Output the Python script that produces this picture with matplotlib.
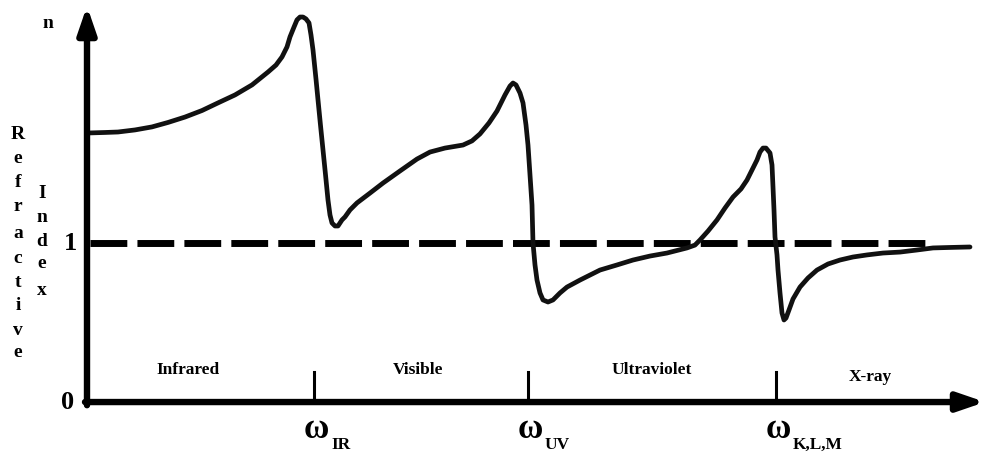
import matplotlib
matplotlib.use("Agg")
import matplotlib.pyplot as plt

plt.rcParams["lines.scale_dashes"] = False
SERIF = ["Liberation Serif", "DejaVu Serif"]

# Frequency (arbitrary units) and refractive index n along the dispersion curve
freq = [0.02, 0.18, 0.31, 0.48, 0.65, 0.81, 0.98, 1.15, 1.31, 1.48, 1.65, 1.81,
        1.89, 1.95, 2.00, 2.03, 2.07, 2.10, 2.13, 2.16, 2.19, 2.22, 2.24, 2.26,
        2.29, 2.31, 2.335, 2.36, 2.385, 2.41, 2.43, 2.45, 2.48, 2.51, 2.55, 2.58,
        2.63, 2.70, 2.83, 2.96, 3.13, 3.30, 3.43, 3.58, 3.76, 3.85, 3.93, 4.02,
        4.10, 4.18, 4.23, 4.26, 4.29, 4.33, 4.36, 4.39, 4.41, 4.43, 4.45, 4.46,
        4.48, 4.50, 4.53, 4.56, 4.61, 4.66, 4.73, 4.80, 4.93, 5.13, 5.30, 5.46,
        5.63, 5.80, 6.00, 6.08, 6.13, 6.21, 6.30, 6.38, 6.46, 6.54, 6.60, 6.65,
        6.70, 6.73, 6.76, 6.79, 6.83, 6.85, 6.86, 6.87, 6.88, 6.90, 6.91, 6.93,
        6.95, 6.97, 6.99, 7.02, 7.06, 7.13, 7.21, 7.30, 7.41, 7.53, 7.66, 7.80,
        7.96, 8.13, 8.30, 8.46, 8.63, 8.83]
n_index = [1.692, 1.695, 1.698, 1.711, 1.730, 1.758, 1.792, 1.833, 1.881, 1.931,
           1.994, 2.075, 2.119, 2.170, 2.233, 2.296, 2.358, 2.403, 2.421, 2.421,
           2.409, 2.384, 2.308, 2.214, 2.030, 1.900, 1.740, 1.585, 1.430, 1.270,
           1.176, 1.126, 1.107, 1.107, 1.145, 1.164,
           1.208, 1.252, 1.314, 1.377, 1.453, 1.528, 1.572, 1.597, 1.616, 1.642,
           1.686, 1.755, 1.830, 1.931, 1.987, 2.006, 1.994, 1.943, 1.881, 1.742,
           1.616, 1.428, 1.239, 1.000,
           0.862, 0.767, 0.686, 0.642, 0.629, 0.642, 0.686, 0.723, 0.767, 0.830,
           0.862, 0.893, 0.918, 0.937, 0.969, 0.987, 1.019, 1.075, 1.145, 1.220,
           1.289, 1.340, 1.396, 1.459, 1.522, 1.572, 1.597, 1.597, 1.566, 1.491,
           1.352, 1.208, 1.038, 0.925, 0.830, 0.686, 0.560, 0.516, 0.528, 0.579,
           0.648, 0.723, 0.780, 0.830, 0.868, 0.893, 0.912, 0.925, 0.937, 0.943,
           0.956, 0.969, 0.972, 0.975]

# Resonance frequencies marked on the axis
res_freq = [2.27, 4.41, 6.89]
res_symbol = ["\u03c9", "\u03c9", "\u03c9"]
res_sub = ["IR", "UV", "K,L,M"]

# Spectral regions
regions = ["Infrared", "Visible", "Ultraviolet", "X-ray"]
region_x = [1.01, 3.31, 5.65, 7.83]
region_y = [0.20, 0.20, 0.20, 0.16]

fig = plt.figure(figsize=(9.86, 4.55), dpi=100)
ax = fig.add_axes([0, 0, 1, 1])
ax.set_xlim(-0.87, 8.99)
ax.set_ylim(-0.333, 2.528)
ax.axis("off")

# Vacuum reference line n = 1
ax.plot([0.03, 8.45], [1, 1], color="black", lw=5.0,
        dashes=(26.5, 7.3), solid_capstyle="butt", dash_capstyle="butt", zorder=2)

# Dispersion curve
ax.plot(freq, n_index, color="#111111", lw=3.4, solid_joinstyle="round",
        solid_capstyle="round", zorder=3)

# Axes with arrowheads
arrow_kw = dict(arrowstyle="-|>,head_length=1.6,head_width=0.55", lw=4.6,
                color="black", shrinkA=0, shrinkB=0, mutation_scale=10)
ax.annotate("", xy=(0, 2.49), xytext=(0, -0.02), arrowprops=arrow_kw, zorder=4)
ax.annotate("", xy=(8.98, 0), xytext=(-0.02, 0), arrowprops=arrow_kw, zorder=4)

# Resonance ticks and labels
for f, sym, sub in zip(res_freq, res_symbol, res_sub):
    ax.plot([f, f], [0, 0.19], color="black", lw=2.2, zorder=4)
    ax.text(f + 0.02, -0.175, sym, family=SERIF, fontsize=25, fontweight="bold",
            ha="center", va="center")
    ax.text(f + 0.17, -0.27, sub, family=SERIF, fontsize=12.5, fontweight="bold",
            ha="left", va="center")

for name, x, y in zip(regions, region_x, region_y):
    ax.text(x, y, name, family=SERIF, fontsize=12.5, fontweight="bold",
            ha="center", va="center")

# Axis tick values and symbol
ax.text(-0.17, 1.0, "1", family=SERIF, fontsize=19, fontweight="bold",
        ha="center", va="center")
ax.text(-0.19, 0.0, "0", family=SERIF, fontsize=19, fontweight="bold",
        ha="center", va="center")
ax.text(-0.39, 2.38, "n", family=SERIF, fontsize=14, fontweight="bold",
        ha="center", va="center")

# Stacked vertical axis title
refr_y = [1.68, 1.53, 1.38, 1.23, 1.06, 0.90, 0.75, 0.61, 0.45, 0.31]
for ch, y in zip("Refractive", refr_y):
    ax.text(-0.69, y, ch, family=SERIF, fontsize=14, fontweight="bold",
            ha="center", va="center")
index_y = [1.31, 1.16, 1.01, 0.87, 0.70]
for ch, y in zip("Index", index_y):
    ax.text(-0.45, y, ch, family=SERIF, fontsize=14, fontweight="bold",
            ha="center", va="center")

fig.savefig("out.png", dpi=100, facecolor="white")
